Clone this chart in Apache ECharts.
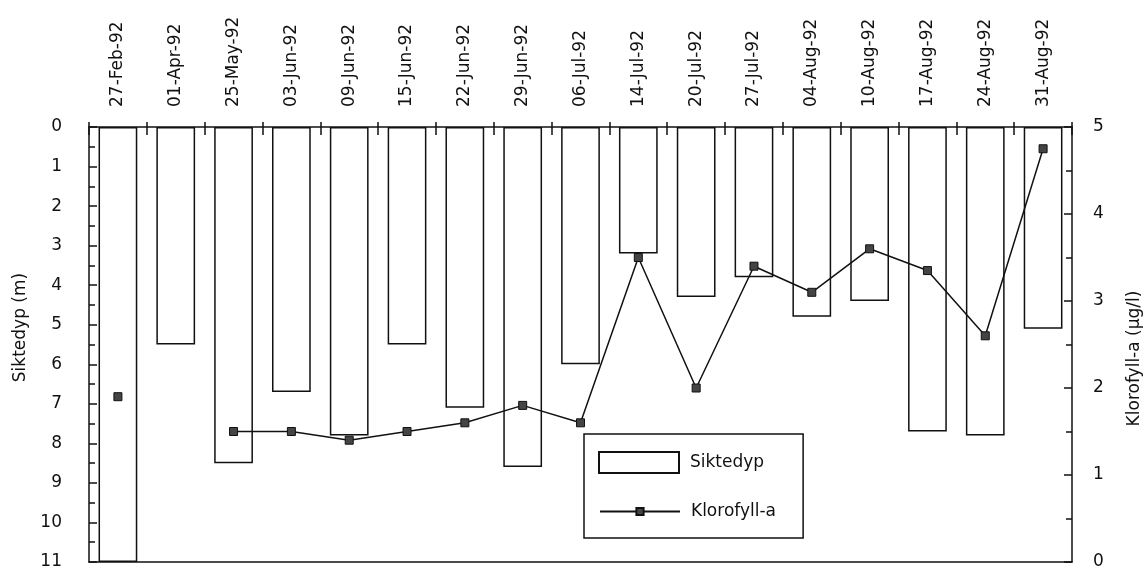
<!DOCTYPE html>
<html>
<head>
<meta charset="utf-8">
<script src="https://cdn.jsdelivr.net/npm/echarts@6/dist/echarts.min.js"></script>
<style>
  html, body { margin: 0; padding: 0; background: #fff; }
  #chart { width: 1148px; height: 576px; }
</style>
</head>
<body>
<div id="chart"></div>
<script>
// dates on the top axis
const dates = ['27-Feb-92', '01-Apr-92', '25-May-92', '03-Jun-92', '09-Jun-92', '15-Jun-92',
  '22-Jun-92', '29-Jun-92', '06-Jul-92', '14-Jul-92', '20-Jul-92', '27-Jul-92',
  '04-Aug-92', '10-Aug-92', '17-Aug-92', '24-Aug-92', '31-Aug-92'];

// Siktedyp (m), bars hanging from the top
const siktedyp = [11, 5.5, 8.5, 6.7, 7.8, 5.5, 7.1, 8.6, 6.0, 3.2, 4.3, 3.8, 4.8, 4.4, 7.7, 7.8, 5.1];

// Klorofyll-a (µg/l), no sample on 01-Apr
const klorofyll = [1.9, null, 1.5, 1.5, 1.4, 1.5, 1.6, 1.8, 1.6, 3.5, 2.0, 3.4, 3.1, 3.6, 3.35, 2.6, 4.75];

const FONT = 'DejaVu Sans';
const INK = '#111';

const chart = echarts.init(document.getElementById('chart'));

// common tick look for both value axes
function valueTicks() {
  return {
    axisLine: { show: true, onZero: false, lineStyle: { color: INK, width: 1.5 } },
    axisTick: { show: true, inside: true, length: 8, lineStyle: { color: INK, width: 1.5 } },
    minorTick: { show: true, splitNumber: 2, length: 6, lineStyle: { color: INK, width: 1.5 } },
    splitLine: { show: false },
  };
}

const option = {
  animation: false,
  textStyle: { fontFamily: FONT, color: INK },
  grid: { left: 89, right: 76, top: 127, bottom: 14, outerBoundsMode: 'none' },
  legend: [
    {
      // first entry, its border also wraps the second one
      left: 584,
      top: 434,
      itemWidth: 80,
      itemHeight: 21,
      padding: [17, 39, 64, 14],
      borderColor: INK,
      borderWidth: 1.5,
      textStyle: { fontFamily: FONT, fontSize: 17, color: INK, padding: [0, 0, 0, 6] },
      data: [{ name: 'Siktedyp', icon: 'rect' }]
    },
    {
      left: 599,
      top: 503,
      itemWidth: 80,
      itemHeight: 9,
      padding: 0,
      textStyle: { fontFamily: FONT, fontSize: 17, color: INK, padding: [0, 0, 0, 6] },
      data: ['Klorofyll-a']
    }
  ],
  xAxis: [
    {
      // labels + outer ticks
      type: 'category',
      position: 'top',
      data: dates,
      boundaryGap: true,
      axisLine: { onZero: false, lineStyle: { color: INK, width: 1.5 } },
      axisTick: { show: true, interval: 0, length: 5, lineStyle: { color: INK, width: 1.5 } },
      axisLabel: { interval: 0, rotate: -90, margin: 20, fontSize: 17, color: INK, fontFamily: FONT }
    },
    {
      // inner ticks on the top line
      type: 'category',
      position: 'top',
      data: dates,
      boundaryGap: true,
      axisLine: { show: false, onZero: false },
      axisTick: { show: true, interval: 0, inside: true, length: 8, lineStyle: { color: INK, width: 1.5 } },
      axisLabel: { show: false }
    },
    {
      // bottom frame line
      type: 'category',
      position: 'bottom',
      data: dates,
      axisLine: { onZero: false, lineStyle: { color: INK, width: 1.5 } },
      axisTick: { show: false },
      axisLabel: { show: false }
    }
  ],
  yAxis: [
    Object.assign({
      type: 'value',
      name: 'Siktedyp (m)',
      nameLocation: 'middle',
      nameGap: 60,
      nameTextStyle: { fontSize: 17, color: INK, fontFamily: FONT, padding: [0, 0, 0, 34] },
      position: 'left',
      inverse: true,
      min: 0,
      max: 11,
      interval: 1,
      axisLabel: { margin: 27, fontSize: 17, color: INK, fontFamily: FONT }
    }, valueTicks()),
    Object.assign({
      type: 'value',
      name: 'Klorofyll-a (µg/l)',
      nameLocation: 'middle',
      nameGap: 54,
      nameTextStyle: { fontSize: 17, color: INK, fontFamily: FONT, padding: [0, 28, 0, 0] },
      position: 'right',
      min: 0,
      max: 5,
      interval: 1,
      axisLabel: { margin: 21, fontSize: 17, color: INK, fontFamily: FONT }
    }, valueTicks())
  ],
  series: [
    {
      name: 'Siktedyp',
      type: 'bar',
      xAxisIndex: 0,
      yAxisIndex: 0,
      barWidth: '67%',
      data: siktedyp,
      itemStyle: { color: '#fff', borderColor: INK, borderWidth: 1.5 }
    },
    {
      name: 'Klorofyll-a',
      type: 'line',
      xAxisIndex: 0,
      yAxisIndex: 1,
      data: klorofyll,
      connectNulls: false,
      symbol: 'rect',
      symbolSize: 8,
      lineStyle: { color: INK, width: 1.5 },
      itemStyle: { color: '#444', borderColor: INK, borderWidth: 1 }
    }
  ]
};

chart.setOption(option);
</script>
</body>
</html>
